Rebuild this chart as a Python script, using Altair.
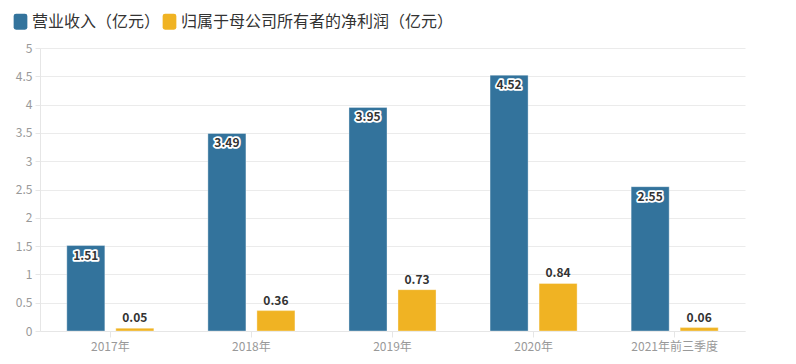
import altair as alt
import pandas as pd

years = ["2017年", "2018年", "2019年", "2020年", "2021年前三季度"]
revenue = [1.51, 3.49, 3.95, 4.52, 2.55]
profit = [0.05, 0.36, 0.73, 0.84, 0.06]
series_names = ["营业收入（亿元）", "归属于母公司所有者的净利润（亿元）"]
colors = ["#33739c", "#f0b323"]
y_ticks = [0, 0.5, 1, 1.5, 2, 2.5, 3, 3.5, 4, 4.5, 5]

rows = []
for i, y in enumerate(years):
    rows.append({"year": y, "series": series_names[0], "value": revenue[i], "label": f"{revenue[i]:.2f}"})
    rows.append({"year": y, "series": series_names[1], "value": profit[i], "label": f"{profit[i]:.2f}"})
df = pd.DataFrame(rows)

FONT = "Noto Sans CJK SC"
rounded = "M -0.55,-1 L 0.55,-1 Q 0.85,-1 0.85,-0.7 L 0.85,0.7 Q 0.85,1 0.55,1 L -0.55,1 Q -0.85,1 -0.85,0.7 L -0.85,-0.7 Q -0.85,-1 -0.55,-1 Z"

x_enc = alt.X("year:N", sort=years,
              scale=alt.Scale(paddingInner=0.383, paddingOuter=0.19),
              axis=alt.Axis(title=None, labelAngle=0, labelColor="#999999", labelFont=FONT,
                            labelFontSize=12, domainColor="#e6e6e6", tickColor="#e6e6e6",
                            tickSize=6, labelPadding=4))
xoff = alt.XOffset("series:N", sort=series_names,
                   scale=alt.Scale(paddingInner=0.224, paddingOuter=0))
y_enc = alt.Y("value:Q", scale=alt.Scale(domain=[0, 5], nice=False),
              axis=alt.Axis(title=None, values=y_ticks, format="~g", labelColor="#999999",
                            labelFont=FONT, labelFontSize=12, gridColor="#ebebeb",
                            domainColor="#e6e6e6", tickColor="#e6e6e6", tickSize=5,
                            labelPadding=3, labelOverlap=False))

bars = alt.Chart(df).mark_bar(strokeWidth=1, strokeOpacity=0.35, stroke="#ffffff").encode(
    x=x_enc, xOffset=xoff,
    y=y_enc,
    color=alt.Color("series:N", sort=series_names,
                    scale=alt.Scale(domain=series_names, range=colors),
                    legend=alt.Legend(title=None, orient="none", direction="horizontal",
                                      legendX=-28, legendY=-35, symbolType=rounded,
                                      symbolSize=260, symbolStrokeWidth=0,
                                      labelFont=FONT, labelFontSize=16, labelColor="#333333",
                                      labelLimit=600, columnPadding=0, labelOffset=3)),
)

blue_df = df[df["series"] == series_names[0]]
yellow_df = df[df["series"] == series_names[1]]

blue_halo = alt.Chart(blue_df).mark_text(
    font=FONT, fontSize=12, fontWeight="bold", dy=10, stroke="white", strokeWidth=3.5,
    strokeJoin="round", color="white"
).encode(x=x_enc, xOffset=xoff, y=y_enc, text="label:N")
blue_text = alt.Chart(blue_df).mark_text(
    font=FONT, fontSize=12, fontWeight="bold", dy=10, color="#333333"
).encode(x=x_enc, xOffset=xoff, y=y_enc, text="label:N")
yellow_text = alt.Chart(yellow_df).mark_text(
    font=FONT, fontSize=12, fontWeight="bold", dy=-10, color="#333333"
).encode(x=x_enc, xOffset=xoff, y=y_enc, text="label:N")

chart = alt.layer(bars, blue_halo, blue_text, yellow_text).properties(
    width=705, height=283
).configure(
    padding={"left": 4, "top": 5, "right": 5, "bottom": 5},
    view=alt.ViewConfig(stroke=None),
)

chart.save("out.html", embed_options={"renderer": "svg", "actions": False})
